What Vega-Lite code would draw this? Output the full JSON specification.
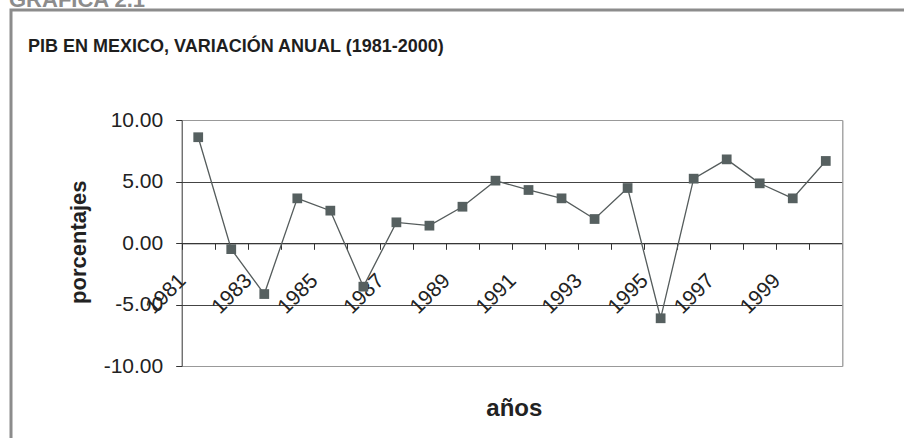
{
  "$schema": "https://vega.github.io/schema/vega-lite/v6.json",
  "width": 900,
  "height": 440,
  "autosize": {"type": "none"},
  "padding": {"left": 11, "top": 10, "right": 0, "bottom": 0},
  "background": "white",
  "config": {
    "view": {"stroke": "#8c8c8c", "strokeWidth": 3},
    "font": "Liberation Sans"
  },
  "title": {
    "text": "GRAFICA 2.1",
    "anchor": "start",
    "frame": "group",
    "dx": -2,
    "offset": -2,
    "fontSize": 22,
    "font": "Liberation Sans",
    "fontWeight": "bold",
    "color": "#8c8c8c"
  },
  "data": {
    "values": [
      {"year": 1981, "value": 8.6},
      {"year": 1982, "value": -0.5},
      {"year": 1983, "value": -4.15},
      {"year": 1984, "value": 3.63},
      {"year": 1985, "value": 2.63},
      {"year": 1986, "value": -3.55},
      {"year": 1987, "value": 1.68},
      {"year": 1988, "value": 1.41},
      {"year": 1989, "value": 2.95},
      {"year": 1990, "value": 5.07},
      {"year": 1991, "value": 4.31},
      {"year": 1992, "value": 3.63},
      {"year": 1993, "value": 1.95},
      {"year": 1994, "value": 4.47},
      {"year": 1995, "value": -6.12},
      {"year": 1996, "value": 5.23},
      {"year": 1997, "value": 6.8},
      {"year": 1998, "value": 4.85},
      {"year": 1999, "value": 3.63},
      {"year": 2000, "value": 6.67}
    ]
  },
  "layer": [
    {
      "mark": {"type": "line", "color": "#555c5c", "strokeWidth": 1.3},
      "encoding": {
        "x": {
          "field": "year",
          "type": "ordinal",
          "scale": {"type": "band", "range": [170.7, 831.3], "paddingInner": 0, "paddingOuter": 0},
          "axis": {
            "orient": "bottom",
            "offset": -206.7,
            "title": "años",
            "titleFontSize": 24,
            "titleFontWeight": "bold",
            "titleColor": "#222222",
            "titleX": 502.8,
            "titleY": 171.7,
            "titleAlign": "center",
            "titleBaseline": "alphabetic",
            "labelAngle": -45,
            "labelAlign": "right",
            "labelBaseline": "middle",
            "labelPadding": 28,
            "labelOffset": -16,
            "labelFontSize": 21,
            "labelColor": "#222222",
            "labelExpr": "datum.value % 2 == 1 ? datum.label : ''",
            "labelOverlap": false,
            "labelBound": false,
            "labelFlush": false,
            "tickBand": "extent",
            "tickSize": 6,
            "tickColor": "#333333",
            "domainColor": "#333333",
            "domainWidth": 1,
            "grid": false
          }
        },
        "y": {
          "field": "value",
          "type": "quantitative",
          "scale": {"domain": [-10, 10], "range": [356, 110], "nice": false, "zero": false},
          "axis": {
            "orient": "left",
            "offset": -170.7,
            "values": [-10, -5, 0, 5, 10],
            "format": ".2f",
            "labelExpr": "replace(datum.label, '\u2212', '-')",
            "labelFontSize": 21,
            "labelColor": "#222222",
            "labelPadding": 13,
            "tickSize": 6,
            "tickColor": "#333333",
            "domainColor": "#333333",
            "grid": true,
            "gridColor": {"condition": {"test": "abs(datum.value) == 10", "value": "#999999"}, "value": "#444444"},
            "gridWidth": 1,
            "title": "porcentajes",
            "titleFontSize": 22,
            "titleFontWeight": "bold",
            "titleColor": "#222222",
            "titleX": -96.2,
            "titleY": 231.7,
            "titleAngle": -90,
            "titleAlign": "center",
            "titleBaseline": "alphabetic"
          }
        }
      }
    },
    {
      "mark": {"type": "point", "shape": "square", "filled": true, "size": 95, "color": "#566060", "opacity": 1},
      "encoding": {
        "x": {
          "field": "year",
          "type": "ordinal",
          "scale": {"type": "band", "range": [170.7, 831.3], "paddingInner": 0, "paddingOuter": 0},
          "axis": {
            "orient": "top",
            "domain": false,
            "ticks": false,
            "labels": false,
            "grid": false,
            "title": "PIB EN MEXICO, VARIACIÓN ANUAL (1981-2000)",
            "titleFontSize": 18,
            "titleFontWeight": "bold",
            "titleColor": "#1e1e1e",
            "titleX": 16.5,
            "titleY": 41.7,
            "titleAlign": "left",
            "titleBaseline": "alphabetic"
          }
        },
        "y": {
          "field": "value",
          "type": "quantitative",
          "scale": {"domain": [-10, 10], "range": [356, 110], "nice": false, "zero": false},
          "axis": {
            "orient": "right",
            "offset": -68.7,
            "domainColor": "#999999",
            "domainWidth": 1.3,
            "ticks": false,
            "labels": false,
            "grid": false,
            "title": null
          }
        }
      }
    }
  ],
  "resolve": {"axis": {"x": "independent", "y": "independent"}}
}
